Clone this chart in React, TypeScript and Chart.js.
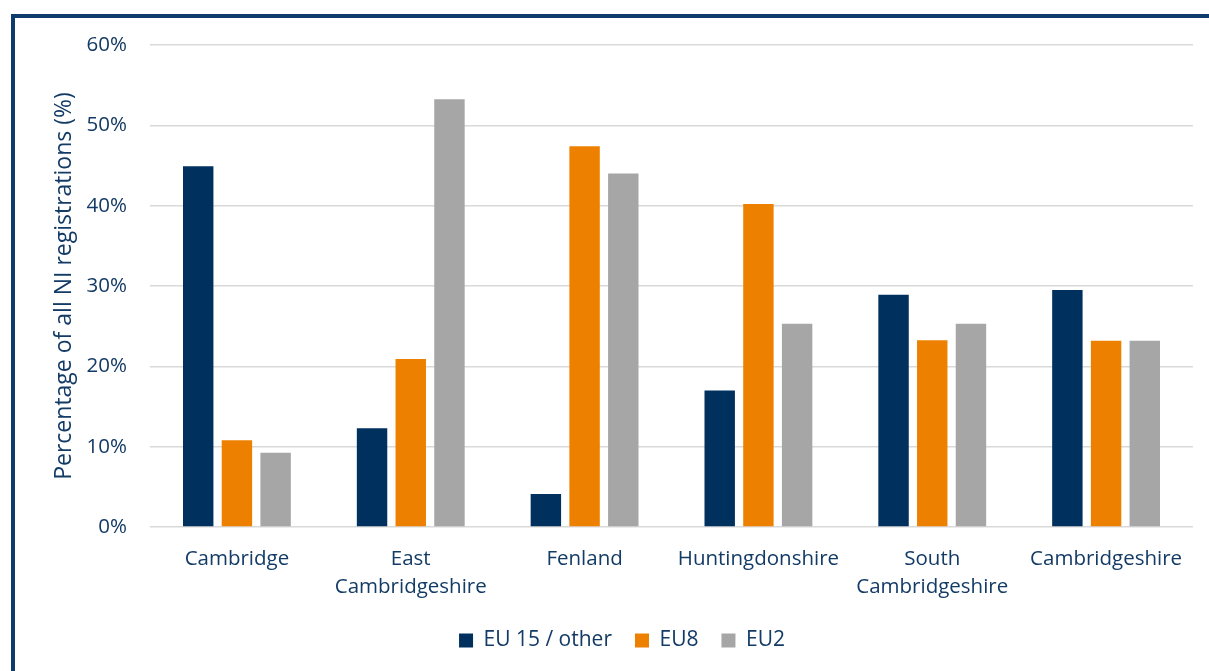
import React, { useEffect, useRef } from "react";
import { Chart, registerables } from "chart.js";

Chart.register(...registerables);

const categories: (string | string[])[] = [
  "Cambridge",
  ["East", "Cambridgeshire"],
  "Fenland",
  "Huntingdonshire",
  ["South", "Cambridgeshire"],
  "Cambridgeshire",
];

const eu15Other = [44.9, 12.3, 4.1, 17.0, 28.9, 29.5];
const eu8 = [10.8, 20.9, 47.4, 40.2, 23.25, 23.2];
const eu2 = [9.25, 53.25, 44.0, 25.3, 25.3, 23.2];

const yTicks = [0, 10, 20, 30, 40, 50, 60];
const yTitle = "Percentage of all NI registrations (%)";

const NAVY = "#00305E";
const ORANGE = "#EE8000";
const GREY = "#A6A6A6";
const TEXT = "#133b65";
const FONT = "'Open Sans', 'Noto Sans', sans-serif";

export default function App() {
  const ref = useRef<HTMLCanvasElement | null>(null);

  useEffect(() => {
    if (!ref.current) return;
    const chart = new Chart(ref.current, {
      type: "bar",
      data: {
        labels: categories,
        datasets: [
          { label: "EU 15 / other", data: eu15Other, backgroundColor: NAVY },
          { label: "EU8", data: eu8, backgroundColor: ORANGE },
          { label: "EU2", data: eu2, backgroundColor: GREY },
        ],
      },
      options: {
        responsive: false,
        animation: false,
        maintainAspectRatio: false,
        datasets: {
          bar: { categoryPercentage: 0.668, barPercentage: 0.786 },
        },
        layout: { padding: { left: 51, right: 16, top: 45, bottom: 10 } },
        plugins: {
          tooltip: { enabled: false },
          legend: {
            position: "bottom",
            labels: {
              boxWidth: 14,
              boxHeight: 14,
              padding: 23,
              color: TEXT,
              font: { family: FONT, size: 21 },
            },
          },
        },
        scales: {
          x: {
            grid: { display: false, drawTicks: false },
            border: { display: false },
            ticks: {
              color: TEXT,
              padding: 18,
              maxRotation: 0,
              autoSkip: false,
              font: { family: FONT, size: 20.5, lineHeight: 28 / 20.5 },
            },
            afterFit: (scale: any) => {
              scale.height = 80;
            },
          },
          y: {
            min: 0,
            max: 60,
            afterBuildTicks: (scale: any) => {
              scale.ticks = yTicks.map((v) => ({ value: v }));
            },
            grid: { color: "#d9d9d9", lineWidth: 1.5, drawTicks: false },
            border: { display: false },
            ticks: {
              color: TEXT,
              padding: 23,
              font: { family: FONT, size: 20.5 },
              callback: (v: any) => `${v}%`,
            },
            title: {
              display: true,
              text: yTitle,
              color: TEXT,
              font: { family: FONT, size: 23 },
              padding: { top: 0, bottom: 0 },
            },
            afterFit: (scale: any) => {
              scale.width = 99;
            },
          },
        },
      },
    });
    return () => chart.destroy();
  }, []);

  return (
    <div
      style={{
        position: "fixed",
        left: 0,
        top: 0,
        width: 1209,
        height: 671,
        overflow: "hidden",
        background: "#fff",
      }}
    >
      <div
        style={{
          position: "absolute",
          left: 11,
          top: 14,
          width: 1400,
          height: 900,
          borderTop: "4px solid #0e3b6b",
          borderLeft: "4px solid #0e3b6b",
        }}
      />
      <canvas
        ref={ref}
        width={1209}
        height={671}
        style={{ position: "absolute", left: 0, top: 0 }}
      />
    </div>
  );
}
